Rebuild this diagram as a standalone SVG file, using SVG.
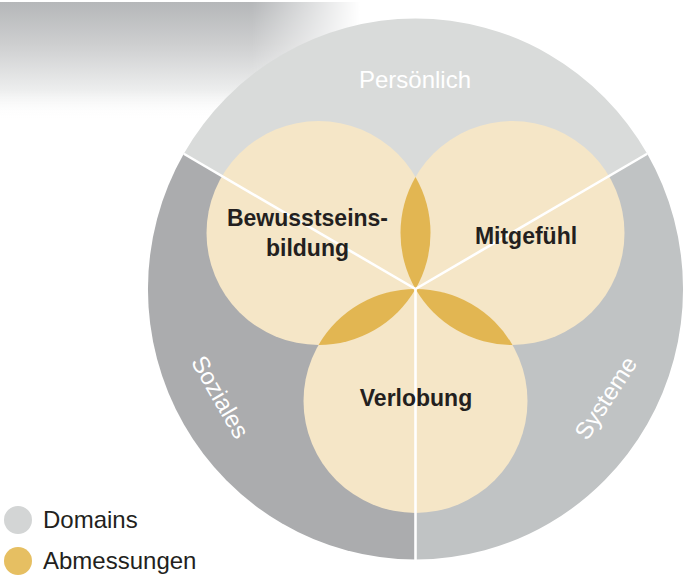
<svg xmlns="http://www.w3.org/2000/svg" width="685" height="576" viewBox="0 0 685 576">
  <defs>
    <linearGradient id="vfade" x1="0" y1="0" x2="0" y2="1">
      <stop offset="0" stop-color="#B5B7B9" stop-opacity="1"/>
      <stop offset="0.35" stop-color="#CDCECF" stop-opacity="1"/>
      <stop offset="0.75" stop-color="#EDEEEE" stop-opacity="1"/>
      <stop offset="1" stop-color="#FFFFFF" stop-opacity="0"/>
    </linearGradient>
    <linearGradient id="hfade" x1="0" y1="0" x2="1" y2="0">
      <stop offset="0" stop-color="#FFFFFF"/>
      <stop offset="0.7" stop-color="#FFFFFF"/>
      <stop offset="1" stop-color="#000000"/>
    </linearGradient>
    <mask id="bandmask" maskUnits="userSpaceOnUse" x="0" y="0" width="360" height="120">
      <rect x="0" y="0" width="360" height="120" fill="url(#hfade)"/>
    </mask>
    <style>
      .dom { font-family: "Liberation Sans", Arial, sans-serif; font-size: 24px; fill: #FFFFFF; text-anchor: middle; }
      .dim { font-family: "Liberation Sans", Arial, sans-serif; font-size: 23px; font-weight: bold; fill: #231F20; text-anchor: middle; }
      .leg { font-family: "Liberation Sans", Arial, sans-serif; font-size: 24px; fill: #231F20; }
      .circ { fill: #F5E6C7; }
      .lens { fill: #E2B652; }
      .sep { stroke: #FFFFFF; stroke-width: 2.6; fill: none; }
    </style>
  </defs>

  <rect x="0" y="2" width="360" height="118" fill="url(#vfade)" mask="url(#bandmask)"/>

  <g id="domain-persoenlich">
    <path d="M415.5,289 L183.8,153.75 A267.5,270.5 0 0 1 647.2,153.75 Z" fill="#D9DBDA"/>
  </g>
  <g id="domain-systeme">
    <path d="M415.5,289 L647.2,153.75 A267.5,270.5 0 0 1 415.5,559.5 Z" fill="#C0C3C4"/>
  </g>
  <g id="domain-soziales">
    <path d="M415.5,289 L415.5,559.5 A267.5,270.5 0 0 1 183.8,153.75 Z" fill="#ABACAE"/>
  </g>

  <g id="dim-bewusstseinsbildung">
    <circle class="circ" cx="318.5" cy="233" r="112"/>
  </g>
  <g id="dim-mitgefuehl">
    <circle class="circ" cx="512.5" cy="233" r="112"/>
  </g>
  <g id="dim-verlobung">
    <circle class="circ" cx="415.5" cy="401" r="112"/>
  </g>

  <g id="overlaps">
    <path class="lens" d="M415.5,177 A112,112 0 0 1 415.5,289 A112,112 0 0 1 415.5,177 Z"/>
    <path class="lens" d="M415.5,177 A112,112 0 0 1 415.5,289 A112,112 0 0 1 415.5,177 Z" transform="rotate(120 415.5 289)"/>
    <path class="lens" d="M415.5,177 A112,112 0 0 1 415.5,289 A112,112 0 0 1 415.5,177 Z" transform="rotate(240 415.5 289)"/>
  </g>

  <g id="connectors">
    <line class="sep" x1="415.5" y1="289" x2="183.8" y2="153.75"/>
    <line class="sep" x1="415.5" y1="289" x2="647.2" y2="153.75"/>
    <line class="sep" x1="415.5" y1="289" x2="415.5" y2="560"/>
  </g>

  <g id="labels">
    <text class="dom" x="415" y="88">Persönlich</text>
    <text class="dom" transform="translate(220,397) rotate(60)" x="0" y="8">Soziales</text>
    <text class="dom" transform="translate(606,398) rotate(-57)" x="0" y="8">Systeme</text>
    <text class="dim" x="307.5" y="226">Bewusstseins-</text>
    <text class="dim" x="307.5" y="256">bildung</text>
    <text class="dim" x="526" y="244">Mitgefühl</text>
    <text class="dim" x="416" y="406">Verlobung</text>
  </g>

  <g id="legend-domains">
    <circle cx="18" cy="520" r="14" fill="#D3D5D5"/>
    <text class="leg" x="43" y="528">Domains</text>
  </g>
  <g id="legend-abmessungen">
    <circle cx="18" cy="561" r="14" fill="#E6BF62"/>
    <text class="leg" x="43" y="569">Abmessungen</text>
  </g>
</svg>
